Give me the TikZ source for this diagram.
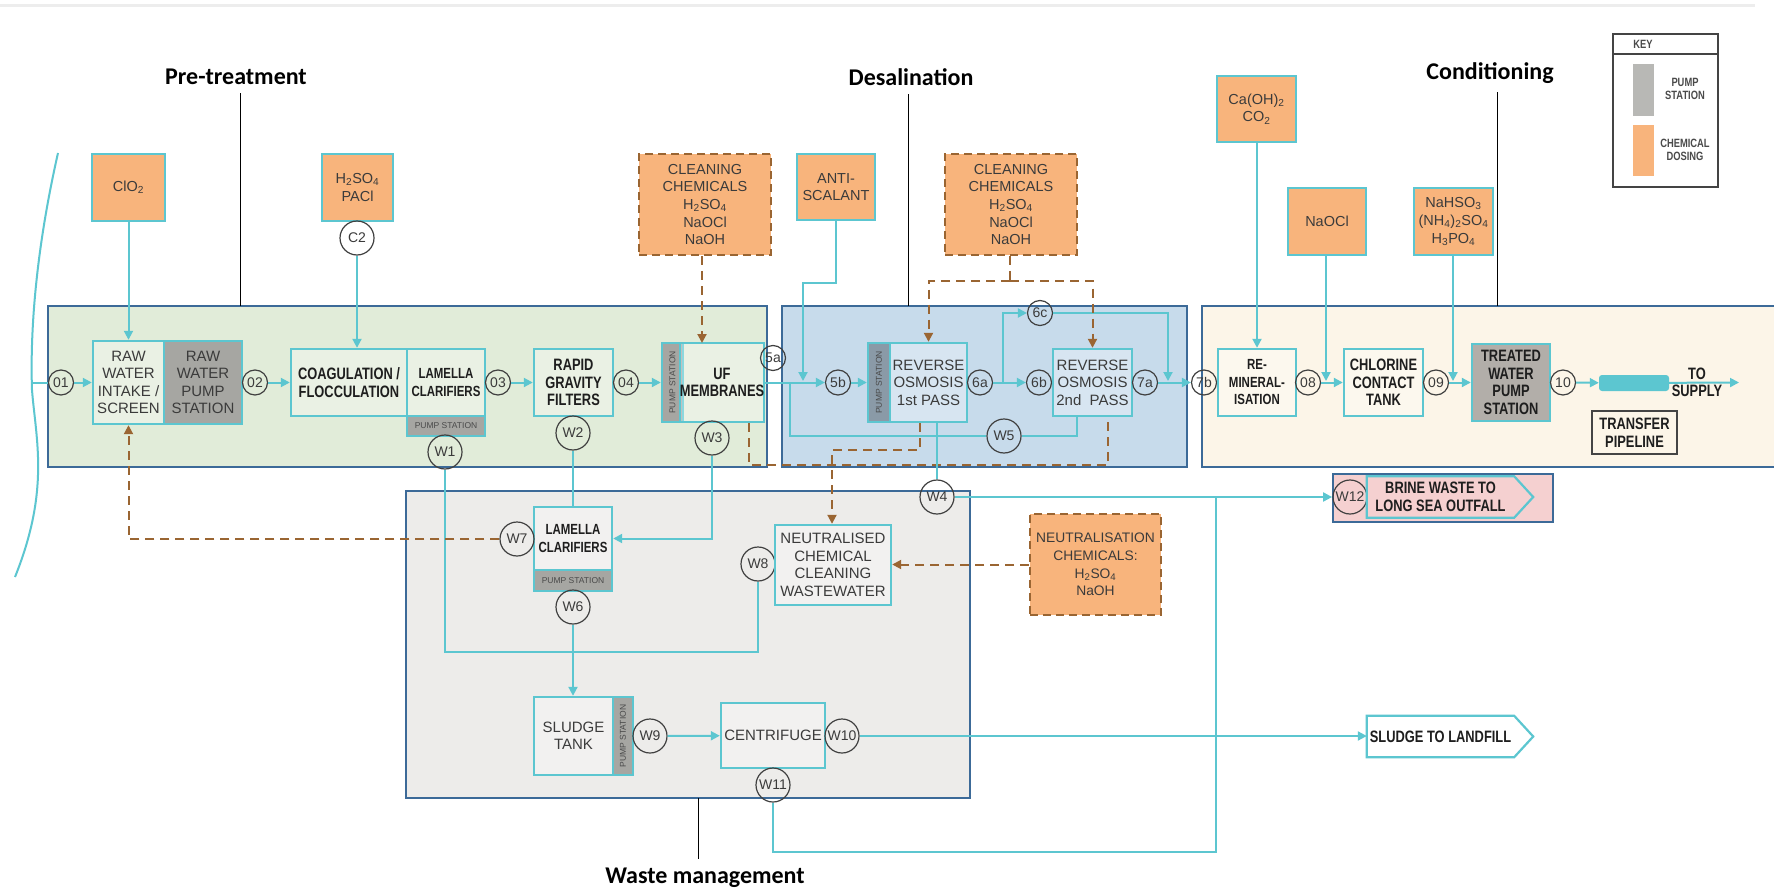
\documentclass[tikz,border=0pt]{standalone}
\usepackage{fontspec}
\setmainfont{Liberation Sans}
\newfontfamily\cnd{Liberation Sans}[FakeStretch=0.78]
\newfontfamily\carl{Carlito}
\usetikzlibrary{arrows.meta,calc}
\definecolor{cy}{HTML}{5CC6D0}
\definecolor{org}{HTML}{F8B47C}
\definecolor{brn}{HTML}{9A6532}
\definecolor{rb}{HTML}{3C6A98}
\definecolor{gfill}{HTML}{E1ECD9}
\definecolor{bfill}{HTML}{C7DBEB}
\definecolor{yfill}{HTML}{FCF5E8}
\definecolor{wfill}{HTML}{EDECEA}
\definecolor{pgrey}{HTML}{A6A6A2}
\definecolor{pgreyb}{HTML}{8A9AA7}
\definecolor{tgrey}{HTML}{B2AEA9}
\definecolor{pinkf}{HTML}{F5D0D0}
\definecolor{circc}{HTML}{404040}
\definecolor{txtd}{HTML}{3B3B3B}
\definecolor{txtb}{HTML}{1E1E1E}
\definecolor{txts}{HTML}{4A4A4A}
\definecolor{keyc}{HTML}{444444}
\newcommand\fReg{\fontsize{15}{17.5}\selectfont}
\newcommand\fChem{\fontsize{14.5}{17.6}\selectfont}
\newcommand\fBC{\cnd\bfseries\fontsize{16.5}{17.5}\selectfont}
\newcommand\fBCs{\cnd\bfseries\fontsize{14.7}{17.5}\selectfont}
\newcommand\fCirc{\fontsize{14}{14}\selectfont}
\newcommand\fSmall{\fontsize{8.5}{9}\selectfont}
\newcommand\fKey{\cnd\bfseries\fontsize{12}{12.5}\selectfont}
\newcommand\fSec{\carl\bfseries\fontsize{24}{26}\selectfont}
\begin{document}
\begin{tikzpicture}[x=1pt,y=-1pt,
 region/.style={draw=rb, line width=1.8pt},
 proc/.style={draw=cy, line width=2.4pt, inner sep=0pt, align=center, text=txtd, font=\fReg},
 pbox/.style={proc, fill=white, fill opacity=0.3, text opacity=1},
 procb/.style={pbox, text=txtb, font=\fBC},
 pstrip/.style={draw=cy, line width=2.4pt, fill=pgrey, inner sep=0pt, text=txts, font=\fSmall},
 chem/.style={draw=cy, line width=2.4pt, fill=org, inner sep=0pt, align=center, text=txtd, font=\fChem},
 dchem/.style={draw=brn, line width=2pt, dash pattern=on 8pt off 5pt, fill=org, inner sep=0pt, align=center, text=txtd, font=\fChem},
 num/.style={circle, draw=circc, line width=1.2pt, minimum size=25pt, inner sep=0pt, text=txtd, font=\fCirc},
 wnum/.style={num, minimum size=34pt},
 flow/.style={draw=cy, line width=2pt},
 arr/.style={flow, -{Triangle[length=9pt,width=9pt]}},
 dsh/.style={draw=brn, line width=2pt, dash pattern=on 9pt off 6pt},
 darr/.style={dsh, -{Triangle[length=9pt,width=9pt]}},
 sec/.style={font=\fSec, text=black},
 leader/.style={draw=black, line width=0.9pt},
]
\useasboundingbox (0,0) rectangle (1774,893);
\fill[white] (0,0) rectangle (1774,893);
\draw[black!7, line width=3pt] (0,6) -- (1755,6);

% regions
\draw[region, fill=gfill] (48,306) rectangle (767,467);
\draw[region, fill=bfill] (782,306) rectangle (1187,467);
\draw[region, fill=yfill] (1202,306) rectangle (1790,467);
\draw[region, fill=wfill] (406,491) rectangle (970,798);

% shoreline
\draw[flow] (58,153) .. controls (36,250) and (30,330) .. (32,390) .. controls (36,440) and (50,490) .. (15,577);
\coordinate (shore) at (32,382.5);

% section labels
\node[sec] (lpre) at (236,77) {Pre-treatment};
\node[sec] (ldes) at (911,77) {Desalination};
\node[sec] (lcon) at (1490,73) {Conditioning};
\node[sec] (lwas) at (705,878) {Waste management};
\coordinate (t1) at (240,306);
\coordinate (t2) at (908,306);
\coordinate (t3) at (1497,306);
\coordinate (t4) at (698,798);
\draw[leader] ($(lpre.south -| t1)+(0,5)$) -- (t1);
\draw[leader] ($(ldes.south -| t2)+(0,5)$) -- (t2);
\draw[leader] ($(lcon.south -| t3)+(0,5)$) -- (t3);
\draw[leader] (t4) -- ($(lwas.north -| t4)+(0,-6)$);

% key
\node[draw=keyc, line width=1.2pt, minimum width=105, minimum height=153, inner sep=0pt] (key) at (1665.5,110.5) {};
\draw[keyc, line width=1.2pt] (key.west |- 0,54) -- (key.east |- 0,54);
\node[font=\fKey, text=txts] (keyt) at (1643,44) {KEY};
\fill[pgrey!80] (1633,64) rectangle (1654,116);
\fill[org] (1633,125) rectangle (1654,176);
\node[font=\fKey, text=txts, align=center] (keyp) at (1685,89) {PUMP\\STATION};
\node[font=\fKey, text=txts, align=center] (keyc) at (1685,150) {CHEMICAL\\DOSING};

% chemical dosing boxes
\node[chem, minimum width=73, minimum height=67] (clo2) at (128.5,187.5) {ClO\textsubscript{2}};
\node[chem, minimum width=71, minimum height=67] (pacl) at (357.5,187.5) {H\textsubscript{2}SO\textsubscript{4}\\PACl};
\node[dchem, minimum width=132, minimum height=101] (clean1) at (705,204.5) {CLEANING\\CHEMICALS\\H\textsubscript{2}SO\textsubscript{4}\\NaOCl\\NaOH};
\node[chem, minimum width=78, minimum height=66] (antisc) at (836,187) {ANTI-\\SCALANT};
\node[dchem, minimum width=132, minimum height=101] (clean2) at (1011,204.5) {CLEANING\\CHEMICALS\\H\textsubscript{2}SO\textsubscript{4}\\NaOCl\\NaOH};
\node[chem, minimum width=79, minimum height=66] (caoh) at (1256.5,109) {Ca(OH)\textsubscript{2}\\CO\textsubscript{2}};
\node[chem, minimum width=78, minimum height=67] (naocl) at (1327,221.5) {NaOCl};
\node[chem, minimum width=79, minimum height=67] (nahso) at (1453.5,221.5) {NaHSO\textsubscript{3}\\(NH\textsubscript{4})\textsubscript{2}SO\textsubscript{4}\\H\textsubscript{3}PO\textsubscript{4}};
\node[dchem, minimum width=131, minimum height=101, font=\fontsize{13.8}{17.6}\selectfont] (neutchem) at (1095.5,564.5) {NEUTRALISATION\\CHEMICALS:\\H\textsubscript{2}SO\textsubscript{4}\\NaOH};
\node[wnum] (c2) at (357,238) {C2};

% main process line
\node[num] (c01) at (61,382.5) {01};
\node[pbox, minimum width=71, minimum height=83] (intake) at (128.5,382.5) {RAW\\WATER\\INTAKE /\\SCREEN};
\node[proc, fill=pgrey, minimum width=78, minimum height=83] (rawpump) at (203,382.5) {RAW\\WATER\\PUMP\\STATION};
\node[num] (c02) at (255,382.5) {02};
\node[procb, minimum width=116, minimum height=67] (coag) at (349,382.5) {COAGULATION /\\FLOCCULATION};
\node[procb, font=\fBCs, minimum width=78, minimum height=67] (lam1) at (446,382.5) {LAMELLA\\CLARIFIERS};
\node[pstrip, minimum width=78, minimum height=20] (lam1s) at (446,426) {PUMP STATION};
\node[num] (c03) at (498,382.5) {03};
\node[procb, minimum width=79, minimum height=67] (rgf) at (573.5,382.5) {RAPID\\GRAVITY\\FILTERS};
\node[num] (c04) at (626,382.5) {04};
\node[pstrip, minimum width=21, minimum height=79] (ufs) at (672.5,382.5) {\rotatebox{90}{PUMP STATION}};
\node[procb, minimum width=78, minimum height=79] (uf) at (722,382.5) {UF\\MEMBRANES};
\node[num] (c5a) at (773,358) {5a};
\node[num] (c5b) at (838,382.5) {5b};
\node[pstrip, fill=pgreyb, minimum width=22, minimum height=79] (ro1s) at (879,382.5) {\rotatebox{90}{PUMP STATION}};
\node[pbox, minimum width=77, minimum height=79] (ro1) at (928.5,382.5) {REVERSE\\OSMOSIS\\1st PASS};
\node[num] (c6a) at (980,382.5) {6a};
\node[num] (c6b) at (1039,382.5) {6b};
\node[num] (c6c) at (1040,313) {6c};
\node[pbox, minimum width=79, minimum height=67] (ro2) at (1092.5,382.5) {REVERSE\\OSMOSIS\\2nd\ \ PASS};
\node[num] (c7a) at (1145,382.5) {7a};
\node[num] (c7b) at (1204,382.5) {7b};
\node[procb, font=\fBCs, minimum width=78, minimum height=67] (remin) at (1257,382.5) {RE-\\MINERAL-\\ISATION};
\node[num] (c08) at (1308,382.5) {08};
\node[procb, minimum width=79, minimum height=67] (cct) at (1383.5,382.5) {CHLORINE\\CONTACT\\TANK};
\node[num] (c09) at (1436,382.5) {09};
\node[proc, fill=tgrey, text=txtb, font=\fBC, minimum width=78, minimum height=77] (twps) at (1511,382.5) {TREATED\\WATER\\PUMP\\STATION};
\node[num] (c10) at (1563,382.5) {10};
\node[fill=cy, rounded corners=3pt, minimum width=70, minimum height=16, inner sep=0pt] (pipe) at (1634,383) {};
\coordinate (supply) at (1739,382.5);
\node[draw=keyc, line width=1.1pt, minimum width=85, minimum height=43, inner sep=0pt, align=center, text=txtb, font=\fBC] (transfer) at (1634.5,432.5) {TRANSFER\\PIPELINE};

% waste nodes
\node[wnum] (w1) at (445,452) {W1};
\node[wnum] (w2) at (573,433) {W2};
\node[wnum] (w3) at (712,438) {W3};
\node[wnum] (w4) at (937,497) {W4};
\node[wnum] (w5) at (1004,436) {W5};
\node[procb, font=\fBCs, minimum width=78, minimum height=63] (lam2) at (573,538.5) {LAMELLA\\CLARIFIERS};
\node[pstrip, minimum width=78, minimum height=21] (lam2s) at (573,580.5) {PUMP STATION};
\node[wnum] (w7) at (517,539) {W7};
\node[wnum] (w6) at (573,607) {W6};
\node[wnum] (w8) at (758,564) {W8};
\node[pbox, minimum width=116, minimum height=80] (neut) at (833,565) {NEUTRALISED\\CHEMICAL\\CLEANING\\WASTEWATER};
\node[pbox, minimum width=79, minimum height=78] (sludge) at (573.5,736) {SLUDGE\\TANK};
\node[pstrip, minimum width=20, minimum height=78] (sludges) at (623,736) {\rotatebox{90}{PUMP STATION}};
\node[wnum] (w9) at (650,736) {W9};
\node[pbox, minimum width=104, minimum height=65] (centri) at (773,735.5) {CENTRIFUGE};
\node[wnum] (w10) at (842,736) {W10};
\node[wnum] (w11) at (773,785) {W11};

% outfalls
\node[draw=rb, line width=1.8pt, fill=pinkf, minimum width=220, minimum height=48, inner sep=0pt] (w12box) at (1443,498) {};
\node[wnum] (w12) at (1350,497) {W12};
\node[inner sep=0pt, minimum width=147, minimum height=41, align=center, text=txtb, font=\fBC] (brine) at (1440.5,497) {BRINE WASTE TO\\LONG SEA OUTFALL};
\draw[draw=cy, line width=2.2pt] (brine.north west) -- (brine.north east) -- ($(brine.east)+(19,0)$) -- (brine.south east) -- (brine.south west) -- cycle;
\node[inner sep=0pt, minimum width=147, minimum height=41, align=center, text=txtb, font=\fBC] (landfill) at (1440.5,736.5) {SLUDGE TO LANDFILL};
\draw[draw=cy, line width=2.2pt] (landfill.north west) -- (landfill.north east) -- ($(landfill.east)+(19,0)$) -- (landfill.south east) -- (landfill.south west) -- cycle;

% ---- connectors: main flow
\draw[flow] (shore) -- (c01);
\draw[arr] (c01) -- (intake);
\draw[arr] (c02) -- (coag);
\draw[arr] (c03) -- (rgf);
\draw[arr] (c04) -- (ufs);
\draw[arr] (uf) -- (c5b);
\coordinate (asj) at (803,381);
\draw[arr] (antisc.south) -- ++(0,62) -| (asj);
\draw[arr] (c5b) -- (ro1s);
\draw[arr] (c6a) -- (c6b);
\coordinate (j6) at (1003,382.5);
\coordinate (j7) at (1168,381);
\draw[arr] (j6) |- (c6c);
\draw[arr] (c6c) -| (j7);
\draw[arr] (c7a) -- (c7b);
\draw[arr] (c08) -- (cct);
\draw[arr] (c09) -- (twps);
\draw[arr] (c10) -- (pipe);
\draw[arr] (pipe) -- (supply);
\node[inner sep=0pt, align=center, text=txtb, font=\fBC] (tosup) at (1697,382.5) {TO\\SUPPLY};

% chemical dosing connectors
\draw[arr] (clo2) -- (intake);
\draw[arr] (c2) -- (c2 |- coag.north);
\draw[arr] (caoh.south -| remin) -- (remin.north);
\coordinate (nj) at (1326,381);
\draw[arr] (naocl.south -| nj) -- (nj);
\coordinate (nhj) at (1453,381);
\draw[arr] (nahso.south -| nhj) -- (nhj);
\coordinate (ufin) at (702,343);
\draw[darr] (clean1.south -| ufin) -- (ufin);
\coordinate (cj) at (1010,281);
\draw[dsh] (clean2.south -| cj) -- (cj);
\draw[darr] (cj) -| (ro1.north);
\draw[darr] (cj) -| (ro2.north);

% waste connectors
\coordinate (wj) at (600,652);
\draw[flow] (w1) -- (w1 |- wj) -- (w8 |- wj) -- (w8);
\draw[flow] (w2) -- (w2 |- lam2.north);
\draw[arr] (w3) |- (lam2);
\draw[arr] (w6) -- (w6 |- sludge.north);
\draw[darr] (w7) -| (intake);
\coordinate (dl) at (749,465);
\coordinate (dr) at (1108,465);
\draw[dsh] (uf.south -| dl) -- (dl) -- (dr) -- (ro2.south -| dr);
\coordinate (d1) at (920,450);
\coordinate (d2) at (832,450);
\draw[darr] (ro1.south -| d1) -- (d1) -- (d2) -- (neut.north -| d2);
\draw[flow] (ro1.south -| w4) -- (w4);
\coordinate (w5r) at (1077,436);
\coordinate (w5l) at (790,436);
\coordinate (w5t) at (790,382.5);
\draw[flow] (ro2.south -| w5r) -- (w5r) -- (w5);
\draw[flow] (w5) -- (w5l) -- (w5t);
\draw[arr] (w4) -- (w4 -| w12box.west);
\coordinate (b1) at (773,852);
\coordinate (b2) at (1216,852);
\coordinate (b3) at (1216,497);
\draw[flow] (w11) -- (b1) -- (b2) -- (b3);
\draw[darr] (neutchem.west) -- (neutchem.west -| neut.east);
\draw[arr] (w9) -- (centri);
\draw[arr] (w10) -- (w10 -| landfill.west);
\end{tikzpicture}
\end{document}
